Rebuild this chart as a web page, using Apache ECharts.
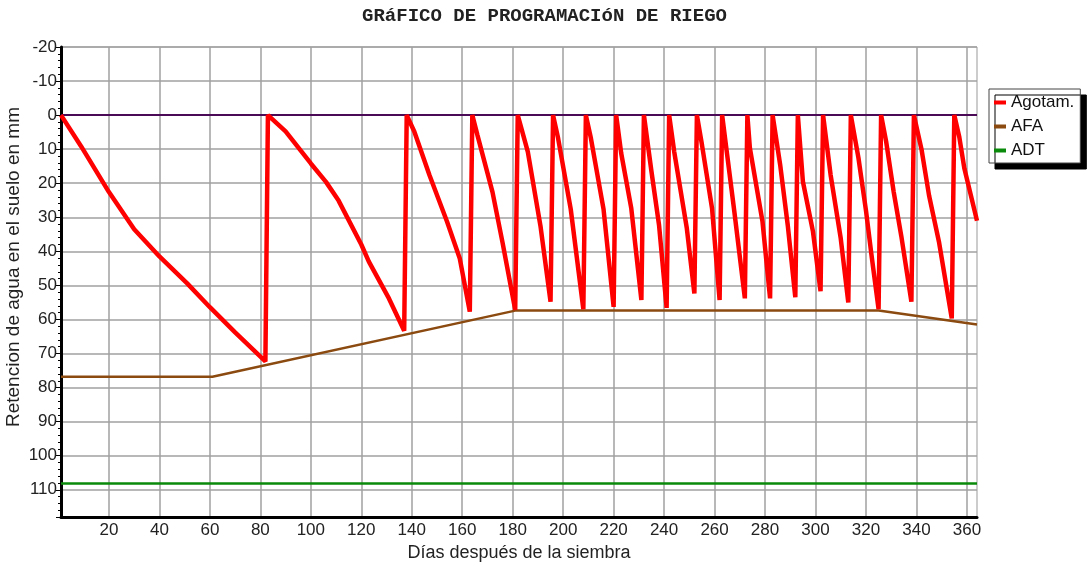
<!DOCTYPE html>
<html>
<head>
<meta charset="utf-8">
<script src="https://cdn.jsdelivr.net/npm/echarts@6/dist/echarts.min.js"></script>
<style>
html,body{margin:0;padding:0;background:#fff;}
#chart{width:1089px;height:563px;}
</style>
</head>
<body>
<div id="chart"></div>
<script>
// ---- data ----
const xTickValues = [20,40,60,80,100,120,140,160,180,200,220,240,260,280,300,320,340,360];

const agotDays = [1,9,20,30,40,51,60,70,82,
  83,90,100,106,111,120,123,131,137,
  138,141,147,154,159,163,
  164,166,172,176,181,
  182,186,191,195,
  196,198,203,208,
  209,211,216,220,
  221,223,227,231,
  232,235,238,241,
  242,244,249,252,
  253,255,259,262,
  263,265,268,272,
  273,274,279,282,
  283,286,289,292,
  293,295,299,302,
  303,306,310,313,
  314,317,320,322,325,
  326,328,331,334,338,
  339,342,345,349,354,
  355,357,359,364];
const agotValues = [0,9.2,22.6,33.5,41.5,49.4,56.4,63.8,72.3,
  0,4.8,14.2,19.6,25.1,38,43,53.9,63.3,
  0,4.8,17.6,31.3,42,57.7,
  0,5.8,22.6,37.5,57.2,
  0,10.8,32.5,54.8,
  0,6.8,27.6,57,
  0,6.8,27.6,56.3,
  0,11.2,27.4,54.3,
  0,16.6,32.3,56.6,
  0,10.7,33.2,52.4,
  0,8.7,27.4,54.3,
  0,11.7,29.3,53.8,
  0,9.7,31.3,53.8,
  0,14.6,32.3,53.5,
  0,19.5,34.2,51.7,
  0,17.6,36.2,55,
  0,12.5,28,40,57,
  0,7.8,22.6,35.5,54.8,
  0,10,23.6,37.5,59.7,
  0,6.5,15.7,31];

const afaDays = [1,61,181,325,364];
const afaValues = [76.8,76.8,57.4,57.4,61.5];

const adtDays = [1,364];
const adtValues = [108.2,108.2];

const ccDays = [1,364];
const ccValues = [0,0];

const seriesNames = ['Agotam.','AFA','ADT'];

function zip(a,b){return a.map((d,i)=>[d,b[i]]);}

const FONT = 'Liberation Sans, Arial, sans-serif';
const chart = echarts.init(document.getElementById('chart'), null, {renderer:'canvas'});
chart.setOption({
  animation:false,
  backgroundColor:'#fff',
  title:{
    text:'GRáFICO DE PROGRAMACIóN DE RIEGO',
    left:'center', top:2,
    textStyle:{fontFamily:'Liberation Mono, Courier New, monospace',fontWeight:'bold',fontSize:19,color:'#222'}
  },
  legend:{
    data:seriesNames,
    orient:'vertical',
    left:989, top:89,
    icon:'rect', itemWidth:12, itemHeight:4, itemGap:7,
    padding:[5,6,4,5],
    backgroundColor:'#fff', borderColor:'#444', borderWidth:1,
    shadowColor:'#000', shadowBlur:0, shadowOffsetX:6, shadowOffsetY:6,
    textStyle:{fontFamily:FONT,fontSize:17,color:'#111'}
  },
  grid:{left:61,right:112,top:47,bottom:46,outerBoundsMode:'none',containLabel:false,show:true,borderColor:'#999',borderWidth:1,backgroundColor:'#fff'},
  xAxis:{
    type:'value', min:1, max:364,
    name:'Días después de la siembra', nameLocation:'middle', nameGap:25,
    nameTextStyle:{fontFamily:FONT,fontSize:18,color:'#222'},
    axisLine:{show:true,onZero:false,lineStyle:{color:'#000',width:3}},
    axisTick:{show:false,customValues:xTickValues},
    axisLabel:{customValues:xTickValues,fontFamily:FONT,fontSize:17,color:'#222',margin:5},
    splitLine:{show:true,lineStyle:{color:'#a0a0a0',width:1.5}}
  },
  yAxis:{
    type:'value', inverse:true, min:-20, max:118, interval:10,
    name:'Retencion de agua en el suelo en mm', nameLocation:'middle', nameGap:38,
    nameMoveOverlap:false,
    nameTextStyle:{fontFamily:FONT,fontSize:19,color:'#222',padding:[0,0,0,30]},
    axisLine:{show:true,onZero:false,lineStyle:{color:'#000',width:3}},
    axisTick:{show:true,length:5,lineStyle:{color:'#000',width:1}},
    minorTick:{show:true,splitNumber:5,length:3,lineStyle:{color:'#000',width:1}},
    axisLabel:{fontFamily:FONT,fontSize:17,color:'#222',margin:4,showMaxLabel:false},
    splitLine:{show:true,lineStyle:{color:'#a0a0a0',width:1.5}}
  },
  series:[
    {name:'CC',type:'line',data:zip(ccDays,ccValues),showSymbol:false,lineStyle:{color:'#4b0a55',width:2},itemStyle:{color:'#4b0a55'},z:2},
    {name:'ADT',type:'line',data:zip(adtDays,adtValues),showSymbol:false,lineStyle:{color:'#0a8a0a',width:2.5},itemStyle:{color:'#0a8a0a'},z:2},
    {name:'AFA',type:'line',data:zip(afaDays,afaValues),showSymbol:false,lineStyle:{color:'#8b4a10',width:2.5},itemStyle:{color:'#8b4a10'},z:2},
    {name:'Agotam.',type:'line',data:zip(agotDays,agotValues),showSymbol:false,lineStyle:{color:'#ff0000',width:4.5},itemStyle:{color:'#ff0000'},z:3}
  ]
});
</script>
</body>
</html>
